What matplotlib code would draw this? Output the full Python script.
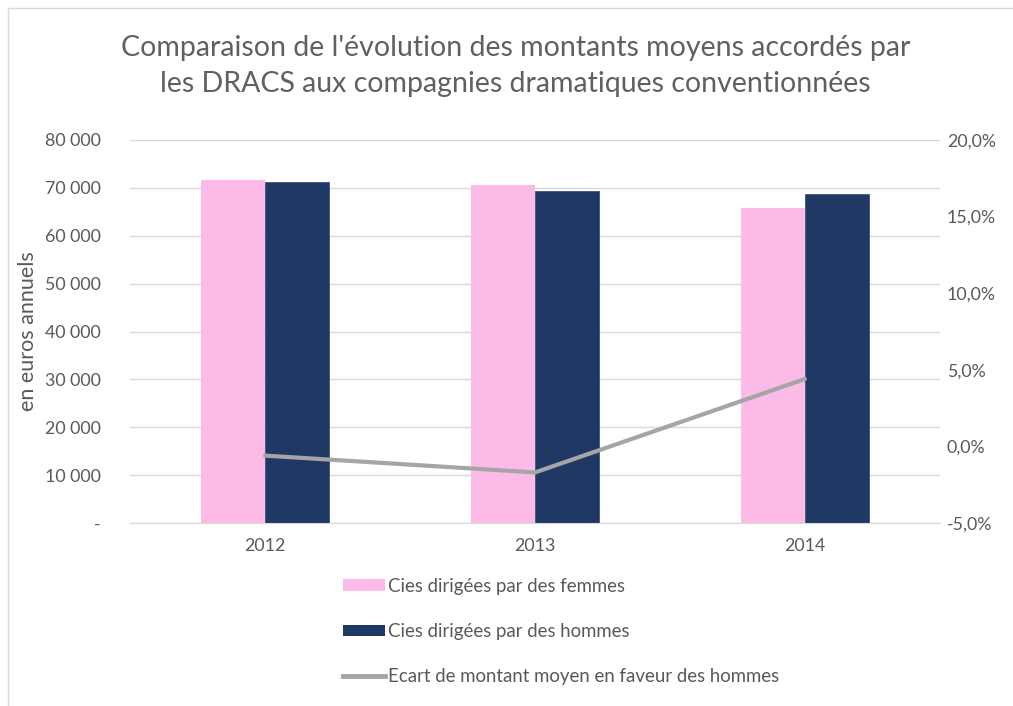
import matplotlib
matplotlib.use("Agg")
import numpy as np
import matplotlib.pyplot as plt
from matplotlib.patches import Patch, Rectangle
from matplotlib.lines import Line2D
from matplotlib.ticker import FuncFormatter, MultipleLocator

plt.rcParams["font.family"] = ["Lato", "DejaVu Sans"]

years = ["2012", "2013", "2014"]
femmes = [71600, 70560, 65700]
hommes = [71130, 69400, 68620]
ecart = [-0.6, -1.7, 4.4]  # percent

label_f = "Cies dirigées par des femmes"
label_h = "Cies dirigées par des hommes"
label_e = "Ecart de montant moyen en faveur des hommes"

PINK = "#FCBBE6"
NAVY = "#203864"
LGREY = "#A5A5A5"
TXT = "#595959"
GRID = "#D9D9D9"

fig = plt.figure(figsize=(10.13, 7.06), dpi=100)
ax = fig.add_axes([0.1283, 0.2592, 0.7996, 0.5425])
ax2 = ax.twinx()

# chart frame
fig.patches.append(Rectangle((8 / 1013, -0.1), 1.2, 1 - 8 / 706 + 0.1,
                             transform=fig.transFigure, fill=False,
                             edgecolor=GRID, linewidth=1.0))

x = np.arange(len(years))
w = 0.237
ax.bar(x - w / 2, femmes, w, color=PINK, zorder=2)
ax.bar(x + w / 2, hommes, w, color=NAVY, edgecolor="#3B5282", linewidth=0.6, zorder=2)
ax2.plot(x, ecart, color=LGREY, linewidth=3, solid_capstyle="round", zorder=3)

ax.set_xlim(-0.5, 2.5)
ax.set_ylim(0, 80000)
ax.yaxis.set_major_locator(MultipleLocator(10000))
ax.yaxis.set_major_formatter(FuncFormatter(
    lambda v, p: "-" if v == 0 else f"{int(v):,}".replace(",", " ")))
ax.grid(axis="y", color=GRID, linewidth=1, zorder=0)
ax.set_axisbelow(True)

ax2.set_ylim(-5, 20)
ax2.yaxis.set_major_locator(MultipleLocator(5))
ax2.yaxis.set_major_formatter(FuncFormatter(
    lambda v, p: f"{v:.1f}%".replace(".", ",")))

ax.set_xticks(x)
ax.set_xticklabels(years)

for a in (ax, ax2):
    for s in ("top", "left", "right", "bottom"):
        a.spines[s].set_visible(False)
    a.tick_params(length=0, labelsize=12.8, colors=TXT)
ax.spines["bottom"].set_visible(True)
ax.spines["bottom"].set_color(GRID)
ax.tick_params(axis="y", pad=21)
ax.tick_params(axis="x", pad=11)
ax2.tick_params(axis="y", pad=5)

ax.set_ylabel("en euros annuels", fontsize=15.5, color=TXT)
ax.yaxis.set_label_coords(-0.1136, 0.5)

fig.text(0.509, 0.907, "Comparaison de l'évolution des montants moyens accordés par\n"
         "les DRACS aux compagnies dramatiques conventionnées",
         ha="center", va="center", fontsize=20.5, color="#606060",
         linespacing=1.48)

handles = [Patch(facecolor=PINK, label=label_f),
           Patch(facecolor=NAVY, label=label_h),
           Line2D([], [], color=LGREY, linewidth=3.5, label=label_e)]
fig.legend(handles=handles, loc="upper left", bbox_to_anchor=(0.3386, 0.182),
           frameon=False, fontsize=13.4, labelcolor=TXT, handlelength=2.25,
           handleheight=0.55, handletextpad=0.15, labelspacing=1.53,
           borderaxespad=0, borderpad=0)

fig.savefig("out.png", dpi=100)
